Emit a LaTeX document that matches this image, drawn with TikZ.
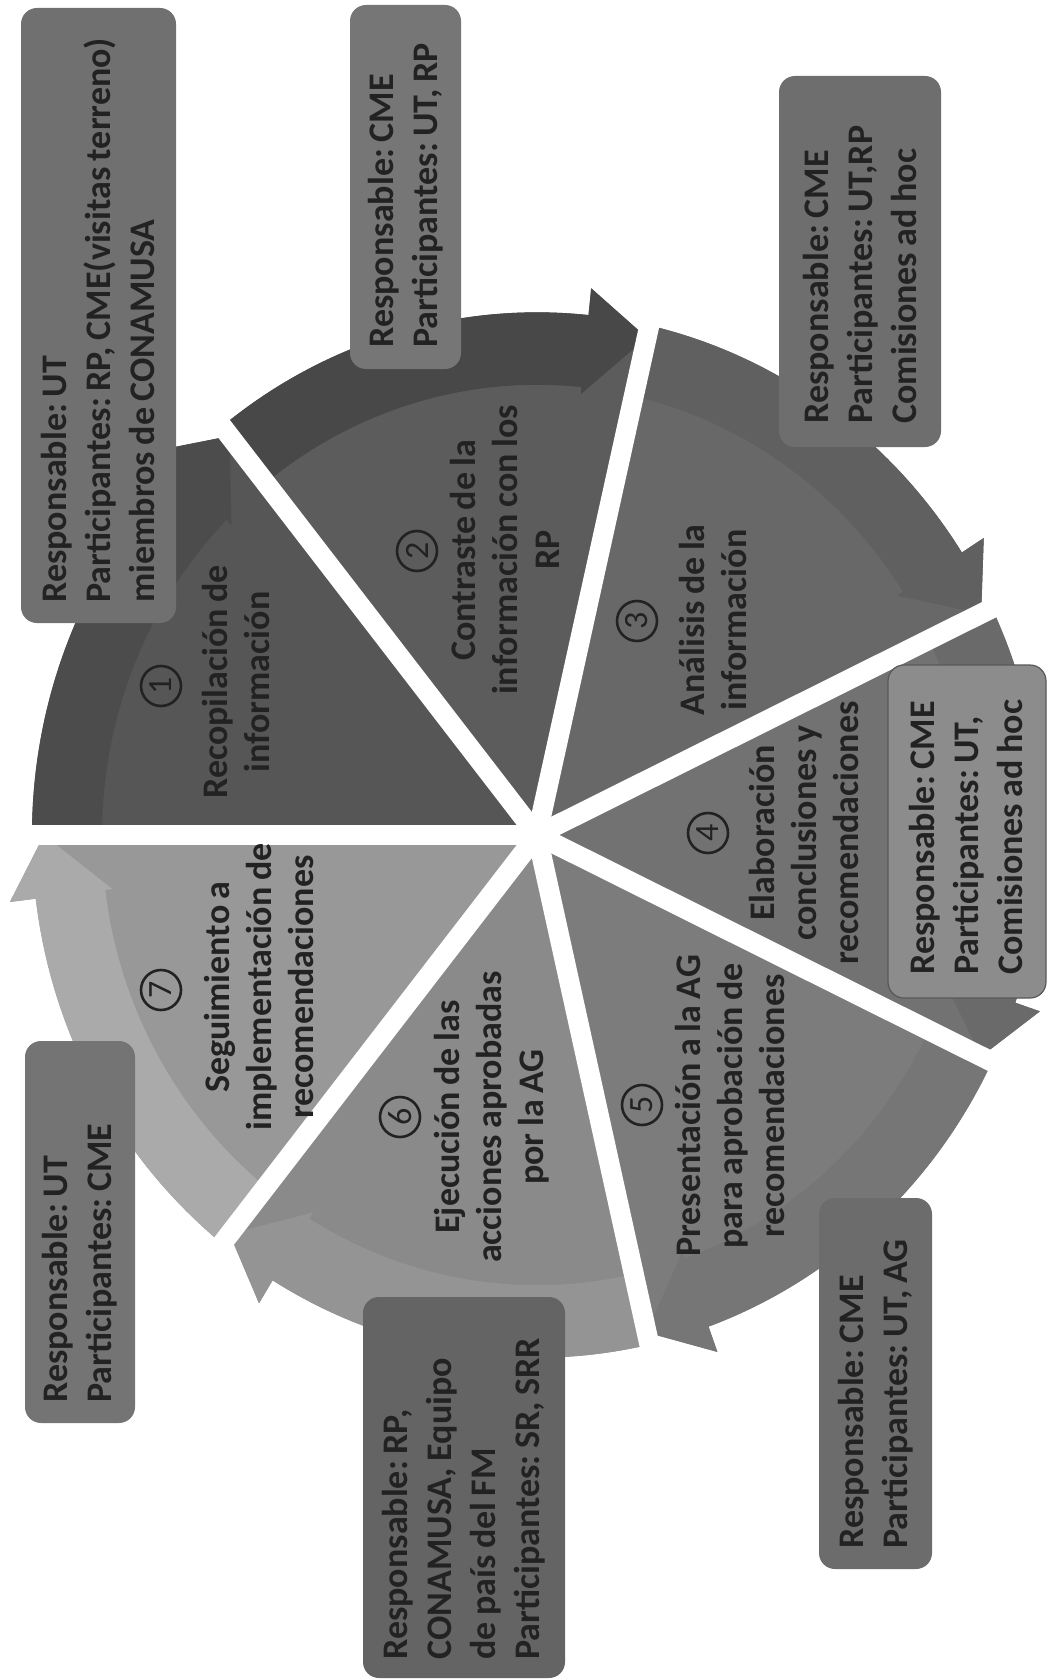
\documentclass[tikz,border=0pt]{standalone}
\usepackage{fontspec}
\setmainfont[WordSpace=0.8]{Carlito}
\frenchspacing
\usetikzlibrary{calc}
\definecolor{s1}{RGB}{86,86,86}
\definecolor{s2}{RGB}{92,92,92}
\definecolor{s3}{RGB}{104,104,104}
\definecolor{s4}{RGB}{114,114,114}
\definecolor{s5}{RGB}{124,124,124}
\definecolor{s6}{RGB}{138,138,138}
\definecolor{s7}{RGB}{152,152,152}
\definecolor{b1}{RGB}{76,76,76}
\definecolor{b2}{RGB}{72,72,72}
\definecolor{b3}{RGB}{96,96,96}
\definecolor{b4}{RGB}{106,106,106}
\definecolor{b5}{RGB}{118,118,118}
\definecolor{b6}{RGB}{148,148,148}
\definecolor{b7}{RGB}{170,170,170}
\definecolor{cardA}{RGB}{112,112,112}
\definecolor{cardB}{RGB}{118,118,118}
\definecolor{cardC}{RGB}{110,110,110}
\definecolor{cardD}{RGB}{140,140,140}
\definecolor{cardDline}{RGB}{88,88,88}
\definecolor{cardE}{RGB}{108,108,108}
\definecolor{cardF}{RGB}{100,100,100}
\definecolor{cardG}{RGB}{116,116,116}
\definecolor{txt}{RGB}{34,34,34}
\tikzset{
  lbl/.style={rotate=90, align=center, inner sep=0pt, text=txt, font=\bfseries\fontsize{18}{21}\selectfont},
  boxtxt/.style={rotate=90, anchor=west, align=left, inner sep=0pt, text=txt, font=\bfseries\fontsize{18}{22}\selectfont},
  num/.style={rotate=90, circle, draw=txt, line width=1.3pt, minimum size=20pt, inner sep=0pt, text=txt, font=\fontsize{17}{17}\selectfont},
  card/.style={rounded corners=8pt},
  gap/.style={white, line width=10pt},
}
\begin{document}
\begin{tikzpicture}[x=0.5pt,y=0.5pt]
\useasboundingbox (0,0) rectangle (1047,-1680);
\fill[white] (0,0) rectangle (1047,-1680);
% pie segments
\begin{scope}[shift={(537,-835)}, yscale=1.035]
\foreach \i/\c/\b in {1/s1/b1, 2/s2/b2, 3/s3/b3, 4/s4/b4, 5/s5/b5, 6/s6/b6, 7/s7/b7} {
  \pgfmathsetmacro\s{180-(\i-1)*360/7}
  \pgfmathsetmacro\e{\s-360/7}
  \pgfmathsetmacro\h{\e+7}
  \fill[\c] (0,0) -- (\s:505) arc[start angle=\s, end angle=\h, radius=505] -- (\h:531) -- (\e:493) -- cycle;
  \fill[\b] (\s:505) arc[start angle=\s, end angle=\h, radius=505] -- (\h:531) -- (\e:493) -- (\h:428) -- (\h:435) arc[start angle=\h, end angle=\s, radius=435] -- cycle;
}
\foreach \k in {0,...,6} {
  \draw[gap] (0,0) -- ({180-\k*360/7}:620);
}
\end{scope}
% cards
\fill[cardA, card] (21,-8) rectangle (176,-623);
\fill[cardB, card] (350,-5) rectangle (461,-369);
\fill[cardC, card] (779,-76) rectangle (941,-447);
\filldraw[fill=cardD, draw=cardDline, line width=0.6pt, card] (888,-665) rectangle (1046,-998);
\fill[cardE, card] (819,-1198) rectangle (932,-1569);
\fill[cardF, card] (363,-1297) rectangle (565,-1678);
\fill[cardG, card] (25,-1041) rectangle (135,-1423);
\node[boxtxt] (tA) at (98.5,-603) {Responsable: UT\\Participantes: RP, CME(visitas terreno)\\miembros de CONAMUSA};
\node[boxtxt] (tB) at (405.5,-348) {Responsable: CME\\Participantes: UT, RP};
\node[boxtxt] (tC) at (860,-424) {Responsable: CME\\Participantes: UT,RP\\Comisiones ad hoc};
\node[boxtxt] (tD) at (966,-975) {Responsable: CME\\Participantes: UT,\\Comisiones ad hoc};
\node[boxtxt] (tE) at (875.5,-1549) {Responsable: CME\\Participantes: UT, AG};
\node[boxtxt] (tF) at (464,-1660) {Responsable: RP,\\CONAMUSA, Equipo\\de país del FM\\Participantes: SR, SRR};
\node[boxtxt] (tG) at (80,-1403) {Responsable: UT\\Participantes: CME};
% sector labels
\node[num] (n1) at (161,-686) {1};
\node[lbl] (l1) at (236,-682) {Recopilación de\\información};
\node[num] (n2) at (417,-551) {2};
\node[lbl] (l2) at (505,-550) {Contraste de la\\información con los\\RP};
\node[num] (n3) at (637,-621) {3};
\node[lbl] (l3) at (713,-620) {Análisis de la\\información};
\node[num] (n4) at (708,-833) {4};
\node[lbl] (l4) at (804,-833) {Elaboración\\conclusiones y\\recomendaciones};
\node[num] (n5) at (642,-1105) {5};
\node[lbl] (l5) at (730,-1106) {Presentación a la AG\\para aprobación de\\recomendaciones};
\node[num] (n6) at (400,-1117) {6};
\node[lbl] (l6) at (492,-1117) {Ejecución de las\\acciones aprobadas\\por la AG};
\node[num] (n7) at (161,-990) {7};
\node[lbl] (l7) at (259,-987) {Seguimiento a\\implementación de\\recomendaciones};
\end{tikzpicture}
\end{document}
